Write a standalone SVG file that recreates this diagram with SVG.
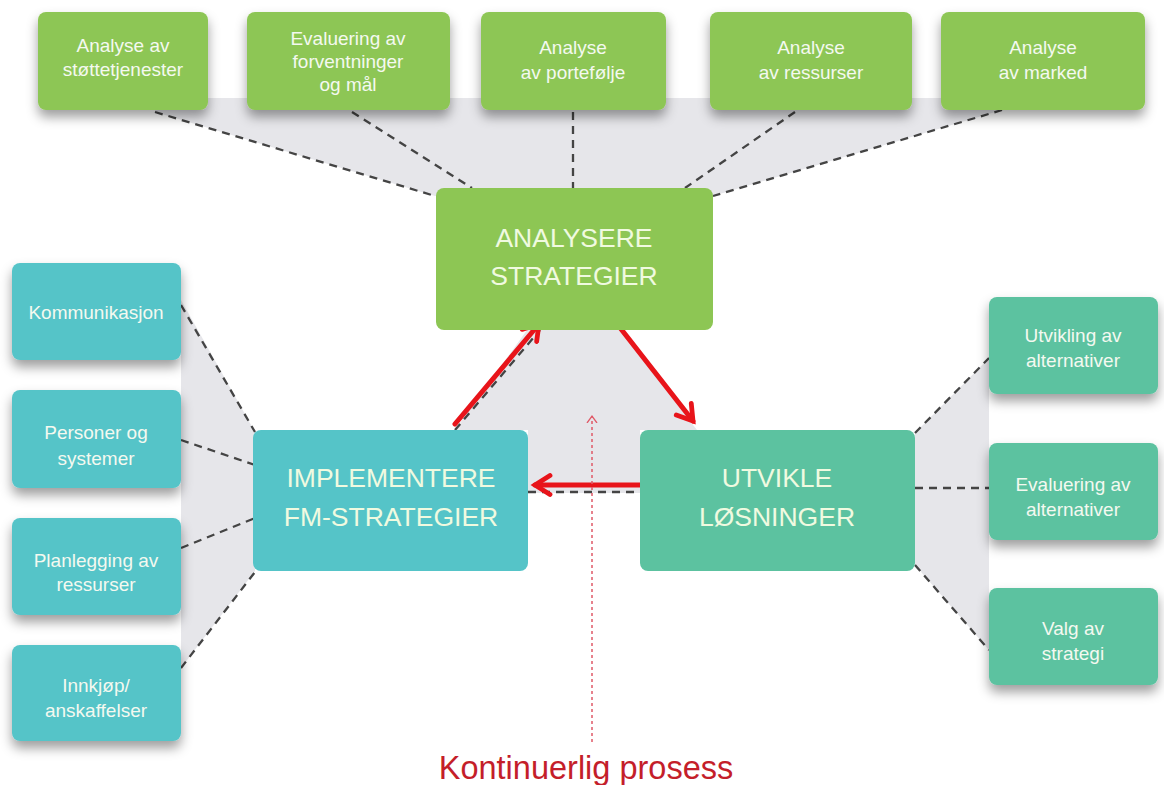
<svg xmlns="http://www.w3.org/2000/svg" width="1164" height="785" viewBox="0 0 1164 785">
  <defs>
    <filter id="sh" x="-20%" y="-20%" width="140%" height="170%">
      <feDropShadow dx="0" dy="7" stdDeviation="6" flood-color="#000" flood-opacity="0.38"/>
    </filter>
    <marker id="ah" viewBox="0 0 24 24" refX="19" refY="12" markerWidth="24" markerHeight="24" orient="auto" markerUnits="userSpaceOnUse">
      <path d="M4,2.5 L19,12 L4,21.5" fill="none" stroke="#e8141a" stroke-width="4.8" stroke-linecap="round" stroke-linejoin="miter"/>
    </marker>
    <marker id="ah2" viewBox="0 0 10 12" refX="7" refY="6" markerWidth="10" markerHeight="12" orient="auto" markerUnits="userSpaceOnUse">
      <path d="M0,1 L7,6 L0,11" fill="none" stroke="#e05a68" stroke-width="1.3"/>
    </marker>
  </defs>
  <style>
    .g{fill:#8dc654}
    .c{fill:#55c4c8}
    .t{fill:#5cc2a0}
    .bg{fill:#e6e6ea}
    .txt{font-family:"Liberation Sans",Arial,sans-serif;font-size:19px;fill:#f4f9f0;text-anchor:middle}
    .big{font-family:"Liberation Sans",Arial,sans-serif;font-size:26.5px;fill:#f0fae0;text-anchor:middle}
    .dash{stroke:#444;stroke-width:2.3;stroke-dasharray:8 6;fill:none}
    .red{stroke:#e8141a;stroke-width:5;fill:none;stroke-linecap:round}
  </style>
  <rect width="1164" height="785" fill="#ffffff"/>

  <g id="background">
    <polygon class="bg" points="155,98 1002,98 1002,110 713,196 435,196 155,112"/>
    <polygon class="bg" points="527,330 620,330 697,430 640,430 640,493 528,493 528,430 455,430"/>
    <polygon class="bg" points="181,300 255,432 255,571 181,668"/>
    <polygon class="bg" points="915,433 989,358 989,650 915,565"/>
  </g>

  <g id="connectors">
    <line class="dash" x1="155" y1="112" x2="435" y2="196"/>
    <line class="dash" x1="352" y1="112" x2="472" y2="188"/>
    <line class="dash" x1="573" y1="112" x2="573" y2="188"/>
    <line class="dash" x1="795" y1="112" x2="685" y2="188"/>
    <line class="dash" x1="1002" y1="110" x2="713" y2="196"/>
    <line class="dash" x1="181" y1="305" x2="255" y2="432"/>
    <line class="dash" x1="181" y1="440" x2="255" y2="465"/>
    <line class="dash" x1="181" y1="548" x2="255" y2="518"/>
    <line class="dash" x1="181" y1="668" x2="255" y2="572"/>
    <line class="dash" x1="915" y1="433" x2="989" y2="358"/>
    <line class="dash" x1="915" y1="488" x2="989" y2="488"/>
    <line class="dash" x1="915" y1="565" x2="989" y2="650"/>
    <line class="dash" x1="455" y1="430" x2="540" y2="330"/>
    <line class="dash" x1="528" y1="492" x2="640" y2="492"/>
    <line class="red" x1="455" y1="424" x2="539" y2="324" marker-end="url(#ah)"/>
    <line class="red" x1="614" y1="320" x2="693" y2="421" marker-end="url(#ah)"/>
    <line class="red" x1="642" y1="485" x2="535" y2="485" marker-end="url(#ah)"/>
    <line x1="592" y1="742" x2="592" y2="416" stroke="#e05a68" stroke-width="1.5" stroke-dasharray="3 3" marker-end="url(#ah2)"/>
  </g>

  <g id="top1"><rect class="g" x="38" y="12" width="170" height="98" rx="8" filter="url(#sh)"/>
    <text class="txt" x="123" y="52">Analyse av</text><text class="txt" x="123" y="76">støttetjenester</text></g>
  <g id="top2"><rect class="g" x="247" y="12" width="203" height="98" rx="8" filter="url(#sh)"/>
    <text class="txt" x="348" y="45">Evaluering av</text><text class="txt" x="348" y="68">forventninger</text><text class="txt" x="348" y="91">og mål</text></g>
  <g id="top3"><rect class="g" x="481" y="12" width="185" height="98" rx="8" filter="url(#sh)"/>
    <text class="txt" x="573" y="54">Analyse</text><text class="txt" x="573" y="79">av portefølje</text></g>
  <g id="top4"><rect class="g" x="710" y="12" width="202" height="98" rx="8" filter="url(#sh)"/>
    <text class="txt" x="811" y="54">Analyse</text><text class="txt" x="811" y="79">av ressurser</text></g>
  <g id="top5"><rect class="g" x="941" y="12" width="204" height="98" rx="8" filter="url(#sh)"/>
    <text class="txt" x="1043" y="54">Analyse</text><text class="txt" x="1043" y="79">av marked</text></g>

  <g id="analysere"><rect class="g" x="436" y="188" width="277" height="142" rx="8"/>
    <text class="big" x="574" y="247">ANALYSERE</text><text class="big" x="574" y="285">STRATEGIER</text></g>
  <g id="implementere"><rect class="c" x="253" y="430" width="275" height="141" rx="8"/>
    <text class="big" x="391" y="487" fill="#eefcfc">IMPLEMENTERE</text><text class="big" x="391" y="526">FM-STRATEGIER</text></g>
  <g id="utvikle"><rect class="t" x="640" y="430" width="275" height="141" rx="8"/>
    <text class="big" x="777" y="487">UTVIKLE</text><text class="big" x="777" y="526">LØSNINGER</text></g>

  <g id="left1"><rect class="c" x="12" y="263" width="169" height="97" rx="8" filter="url(#sh)"/>
    <text class="txt" x="96" y="319">Kommunikasjon</text></g>
  <g id="left2"><rect class="c" x="12" y="390" width="169" height="98" rx="8" filter="url(#sh)"/>
    <text class="txt" x="96" y="439">Personer og</text><text class="txt" x="96" y="465">systemer</text></g>
  <g id="left3"><rect class="c" x="12" y="518" width="169" height="97" rx="8" filter="url(#sh)"/>
    <text class="txt" x="96" y="567">Planlegging av</text><text class="txt" x="96" y="591">ressurser</text></g>
  <g id="left4"><rect class="c" x="12" y="645" width="169" height="96" rx="8" filter="url(#sh)"/>
    <text class="txt" x="96" y="692">Innkjøp/</text><text class="txt" x="96" y="717">anskaffelser</text></g>

  <g id="right1"><rect class="t" x="989" y="297" width="169" height="97" rx="8" filter="url(#sh)"/>
    <text class="txt" x="1073" y="342">Utvikling av</text><text class="txt" x="1073" y="367">alternativer</text></g>
  <g id="right2"><rect class="t" x="989" y="443" width="169" height="97" rx="8" filter="url(#sh)"/>
    <text class="txt" x="1073" y="491">Evaluering av</text><text class="txt" x="1073" y="516">alternativer</text></g>
  <g id="right3"><rect class="t" x="989" y="588" width="169" height="97" rx="8" filter="url(#sh)"/>
    <text class="txt" x="1073" y="635">Valg av</text><text class="txt" x="1073" y="660">strategi</text></g>

  <g id="label"><text x="586" y="779" font-family="Liberation Sans, Arial, sans-serif" font-size="32.5" fill="#c41e2a" text-anchor="middle">Kontinuerlig prosess</text></g>
</svg>
